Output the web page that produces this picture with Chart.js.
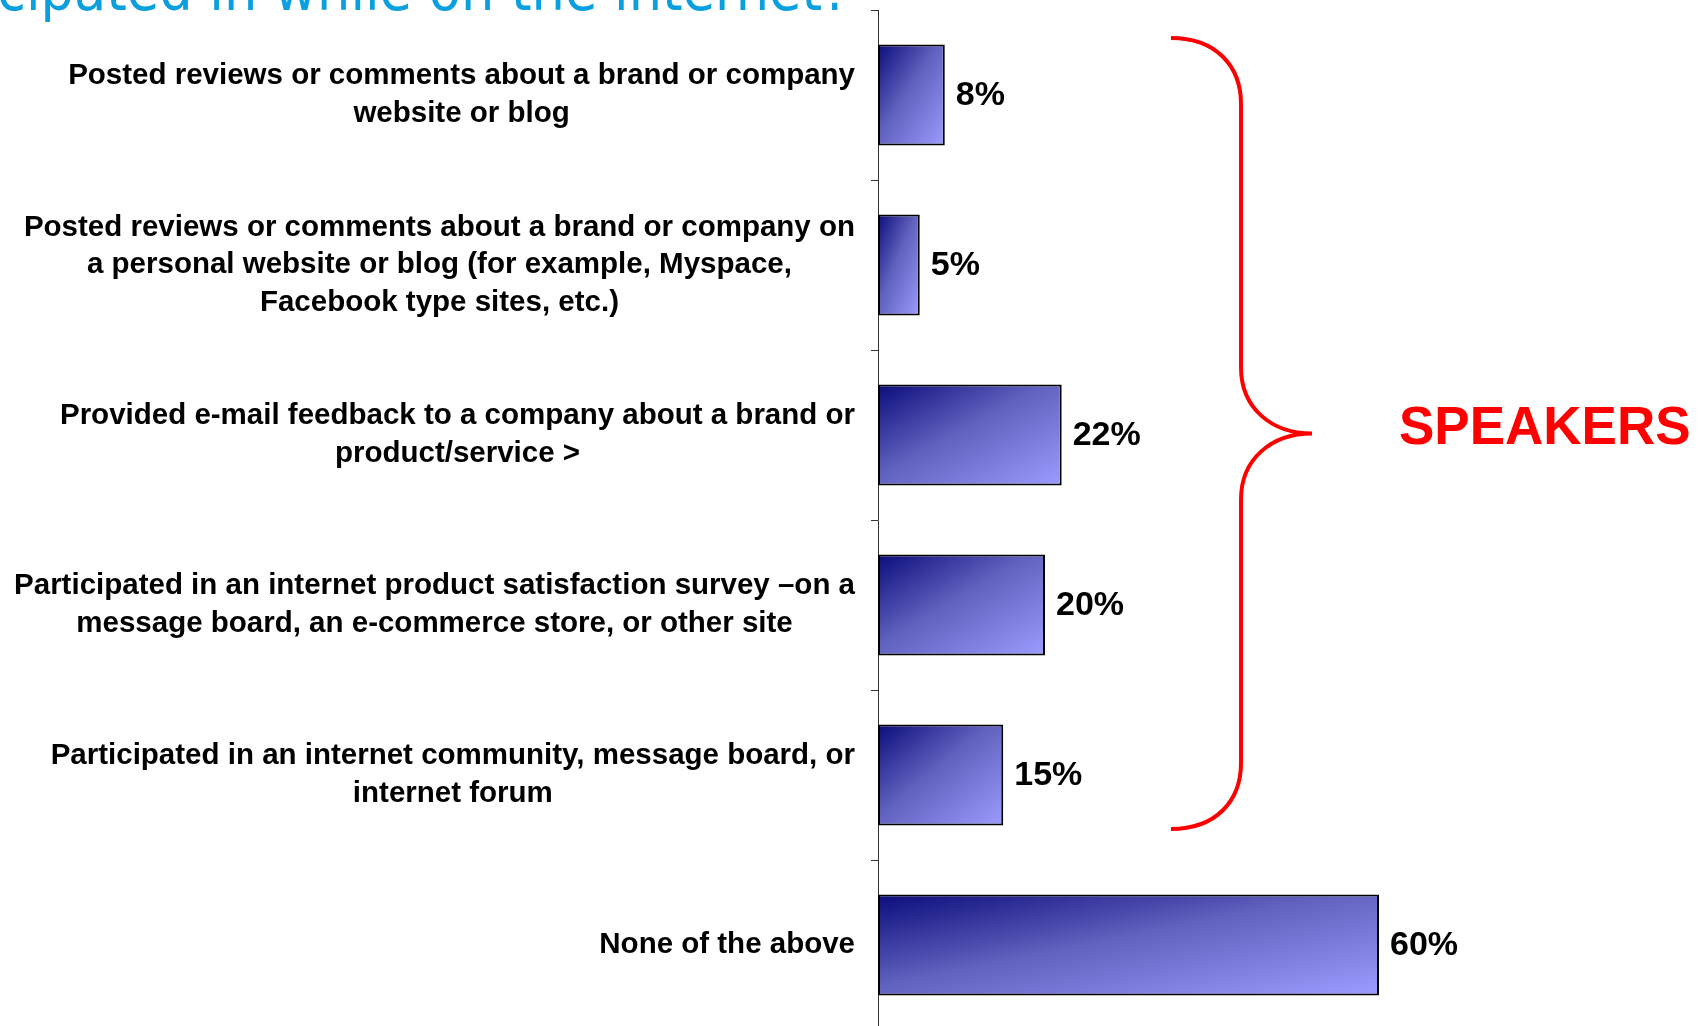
<!DOCTYPE html>
<html>
<head>
<meta charset="utf-8">
<title>Internet activities</title>
<script src="https://cdn.jsdelivr.net/npm/chart.js@4.4.1/dist/chart.umd.min.js"></script>
<style>
    html, body { margin: 0; padding: 0; background: #fff; overflow: hidden; }
    #wrap { position: relative; width: 1700px; height: 1040px; }
</style>
</head>
<body>
<div id="wrap"><canvas id="chart"></canvas></div>
<script>
//? DATA
const titleLine = 'participated in while on the internet?';
const activities = [
    ['Posted reviews or comments about a brand or company', 'website or blog'],
    ['Posted reviews or comments about a brand or company on', 'a personal website or blog (for example, Myspace,', 'Facebook type sites, etc.)'],
    ['Provided e-mail feedback to a company about a brand or', 'product/service >'],
    ['Participated in an internet product satisfaction survey \u2013on a', 'message board, an e-commerce store, or other site'],
    ['Participated in an internet community, message board, or', 'internet forum'],
    ['None of the above']
];
const shares = [8, 5, 22, 20, 15, 60];
const groupName = 'SPEAKERS';
const groupRows = [0, 4]; // rows covered by the brace

//? LAYOUT
const AXIS_X = 878;
const LABEL_RIGHT = 855;
const LINE_H = 37.5;
const BAR_PCT = 0.595;
const FONT = "'Liberation Sans', Arial, sans-serif";

// diagonal fill, dark top-left to light bottom-right, stretched to the bar box
function barFill(c) {
    const chart = c.chart;
    const xs = chart.scales.x, ys = chart.scales.y;
    if (!chart.chartArea || !xs || !ys || c.dataIndex === undefined) return '#6a6acc';
    const x0 = xs.getPixelForValue(0);
    const w = Math.max(1, xs.getPixelForValue(c.raw) - x0);
    const h = (ys.height / activities.length) * BAR_PCT;
    const top = ys.getPixelForValue(c.dataIndex) - h / 2;
    const d = h * h + w * w;
    const g = chart.ctx.createLinearGradient(x0, top, x0 + 2 * w * h * h / d, top + 2 * w * w * h / d);
    g.addColorStop(0, '#0c0c7c');
    g.addColorStop(0.45, '#6060be');
    g.addColorStop(1, '#9c9cff');
    return g;
}

// wrapped category names, each block right-aligned with its lines centred
const categoryLabels = {
    id: 'categoryLabels',
    afterDraw(chart) {
        const ctx = chart.ctx, ys = chart.scales.y;
        ctx.save();
        ctx.font = `bold 29.5px ${FONT}`;
        ctx.fillStyle = '#000';
        ctx.textAlign = 'center';
        ctx.textBaseline = 'middle';
        activities.forEach((lines, i) => {
            const yc = ys.getPixelForValue(i);
            const widest = Math.max(...lines.map(l => ctx.measureText(l).width));
            const cx = LABEL_RIGHT - widest / 2;
            lines.forEach((line, j) => {
                ctx.fillText(line, cx, yc + (j - (lines.length - 1) / 2) * LINE_H);
            });
        });
        ctx.restore();
    }
};

// percent next to each bar end
const valueLabels = {
    id: 'valueLabels',
    afterDatasetsDraw(chart) {
        const ctx = chart.ctx;
        const meta = chart.getDatasetMeta(0);
        ctx.save();
        ctx.font = `bold 34px ${FONT}`;
        ctx.fillStyle = '#000';
        ctx.textAlign = 'left';
        ctx.textBaseline = 'middle';
        meta.data.forEach((bar, i) => {
            ctx.fillText(shares[i] + '%', bar.x + 11, bar.y + 1);
        });
        ctx.restore();
    }
};

// red curly brace + group name
const groupBrace = {
    id: 'groupBrace',
    afterDraw(chart) {
        const ctx = chart.ctx, ys = chart.scales.y;
        const top = ys.getPixelForValue(groupRows[0]) - 57;
        const bottom = ys.getPixelForValue(groupRows[1]) + 54;
        const mid = (top + bottom) / 2;
        const x0 = 1171, sx = 1241, tip = 1312, r = 66;
        ctx.save();
        ctx.strokeStyle = '#ff0000';
        ctx.lineWidth = 4;
        ctx.beginPath();
        ctx.moveTo(x0, top);
        ctx.bezierCurveTo(x0 + 45, top, sx, top + 28, sx, top + r);
        ctx.lineTo(sx, mid - r);
        ctx.bezierCurveTo(sx, mid - 25, tip - 40, mid, tip, mid);
        ctx.bezierCurveTo(tip - 40, mid, sx, mid + 25, sx, mid + r);
        ctx.lineTo(sx, bottom - r);
        ctx.bezierCurveTo(sx, bottom - 28, x0 + 45, bottom, x0, bottom);
        ctx.stroke();

        ctx.font = `bold 53px ${FONT}`;
        ctx.fillStyle = '#ff0000';
        ctx.textAlign = 'left';
        ctx.textBaseline = 'middle';
        ctx.fillText(groupName, 1399, mid - 4);
        ctx.restore();
    }
};

// tail of the slide heading, running off the top edge
const heading = {
    id: 'heading',
    afterDraw(chart) {
        const ctx = chart.ctx;
        ctx.save();
        ctx.font = "58px 'DejaVu Sans', sans-serif";
        ctx.fillStyle = '#0aa0df';
        ctx.textAlign = 'right';
        ctx.textBaseline = 'alphabetic';
        const tail = titleLine.slice(titleLine.indexOf('cipated'));
        const sx = 853 / ctx.measureText(tail).width;
        ctx.translate(850, 10);
        ctx.scale(sx, 1);
        ctx.fillText(titleLine, 0, 0);
        ctx.restore();
    }
};

new Chart(document.getElementById('chart'), {
    type: 'bar',
    data: {
        labels: activities,
        datasets: [{
            data: shares,
            backgroundColor: barFill,
            borderColor: '#000',
            borderWidth: 2,
            borderSkipped: false,
            barPercentage: BAR_PCT,
            categoryPercentage: 1
        }]
    },
    options: {
        indexAxis: 'y',
        responsive: true,
        maintainAspectRatio: false,
        animation: false,
        events: [],
        layout: { padding: { top: 10, bottom: 10, left: 0, right: 154 } },
        scales: {
            x: { display: false, min: 0, max: 80 },
            y: {
                display: true,
                offset: true,
                ticks: { display: false },
                grid: { display: true, offset: true, drawOnChartArea: false, drawTicks: true, tickLength: 7, color: '#333', lineWidth: 1 },
                border: { display: true, color: '#333', width: 1 },
                afterFit: (scale) => { scale.width = AXIS_X; }
            }
        },
        plugins: {
            legend: { display: false },
            tooltip: { enabled: false }
        }
    },
    plugins: [categoryLabels, valueLabels, groupBrace, heading]
});
</script>
</body>
</html>
